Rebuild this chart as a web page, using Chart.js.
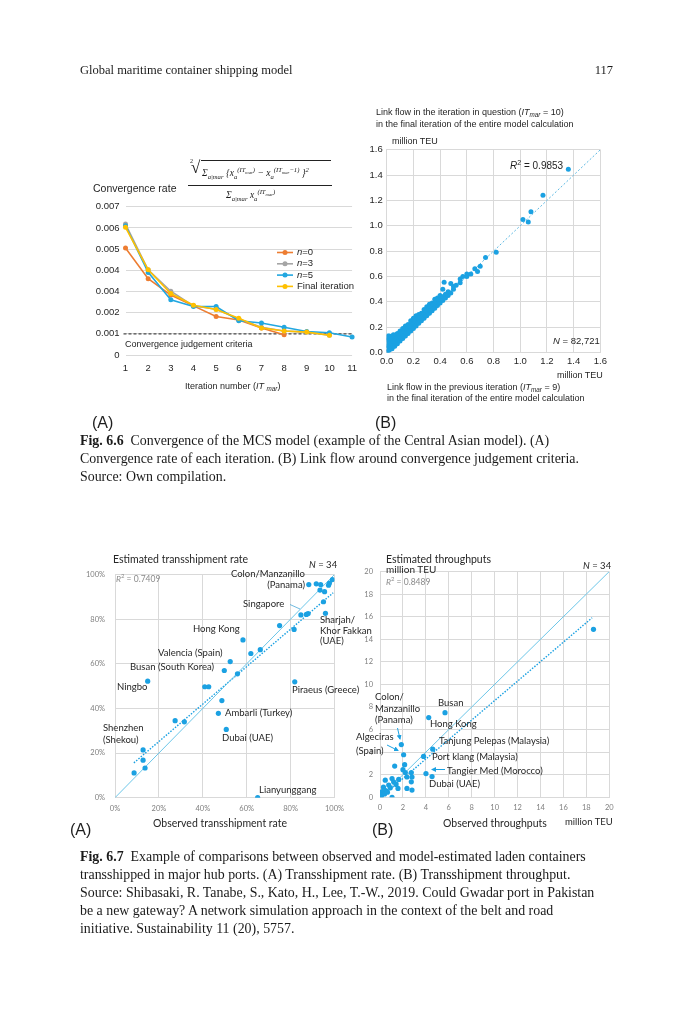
<!DOCTYPE html>
<html>
<head>
<meta charset="utf-8">
<script src="https://cdn.jsdelivr.net/npm/chart.js@4.4.1/dist/chart.umd.min.js"></script>
<style>
body { margin: 0; background: #fff; }
#page { position: relative; width: 682px; height: 1024px; overflow: hidden; font-family: 'Liberation Sans', Arial, sans-serif; color: #1e1e1e; }
.box { position: absolute; }
.t { position: absolute; white-space: nowrap; line-height: 1; transform: translateY(-50%); }
.r { transform: translate(-100%, -50%); }
.serif { font-family: 'Liberation Serif', 'Times New Roman', serif; color: #1a1a1a; }
.cal { font-family: Lato, 'Open Sans', sans-serif; color: #262626; }
.gray { color: #8a8a8a; }
sub, sup { font-size: 70%; line-height: 0; }
#overlay { position: absolute; left: 0; top: 0; z-index: 5; }
</style>
</head>
<body>
<div id="page">
  <div class="box" style="left:90px;top:195px"><canvas id="rateChart" width="275" height="185"></canvas></div>
  <div class="box" style="left:360px;top:140px"><canvas id="flowChart" width="250" height="230"></canvas></div>
  <div class="box" style="left:60px;top:560px"><canvas id="shareChart" width="290" height="260"></canvas></div>
  <div class="box" style="left:350px;top:560px"><canvas id="teuChart" width="275" height="260"></canvas></div>

  <!-- convergence formula -->
  <div class="box serif" style="left:186px;top:153px;width:150px;height:50px;font-size:9.5px;font-style:italic;z-index:4">
    <span style="position:absolute;left:4px;top:5px;font-size:6px;font-style:normal">2</span>
    <span style="position:absolute;left:5px;top:5px;font-size:17px;font-style:normal">&radic;</span>
    <div style="position:absolute;left:15px;top:7px;width:130px;border-top:0.8px solid #222"></div>
    <span style="position:absolute;left:16px;top:15px;white-space:nowrap">&Sigma;<sub>a|mar</sub> {x<sub>a</sub><sup>(IT<sub>mar</sub>)</sup> &minus; x<sub>a</sub><sup>(IT<sub>mar</sub>&minus;1)</sup> }<sup>2</sup></span>
    <div style="position:absolute;left:2px;top:32px;width:144px;border-top:0.8px solid #222"></div>
    <span style="position:absolute;left:40px;top:37px;white-space:nowrap">&Sigma;<sub>a|mar</sub> x<sub>a</sub><sup>(IT<sub>mar</sub>)</sup></span>
  </div>

  <svg id="overlay" width="682" height="1024">
    <defs>
      <marker id="ah" markerWidth="5" markerHeight="5" refX="4" refY="2.5" orient="auto">
        <path d="M0,0 L5,2.5 L0,5 z" fill="#1ba1e2"/>
      </marker>
    </defs>
    <line x1="290" y1="604.5" x2="300" y2="609" stroke="#4aa8d8" stroke-width="0.8"/>
    <line x1="397.5" y1="728" x2="400" y2="739" stroke="#1ba1e2" stroke-width="1" marker-end="url(#ah)"/>
    <line x1="387" y1="745" x2="398" y2="750.5" stroke="#1ba1e2" stroke-width="1" marker-end="url(#ah)"/>
    <line x1="445" y1="769.5" x2="432" y2="769.5" stroke="#1ba1e2" stroke-width="1" marker-end="url(#ah)"/>
  </svg>
</div>

<script>
// Fig 6.6 (A) convergence rate per iteration
const iterations = ['1', '2', '3', '4', '5', '6', '7', '8', '9', '10', '11'];
const rateN0 = [0.00505, 0.0036, 0.00283, 0.00232, 0.00182, 0.00165, 0.00127, 0.00096];
const rateN3 = [0.00618, 0.00402, 0.00301, 0.00232, 0.00216, 0.0017, 0.00131, 0.00113, 0.00108, 0.00093];
const rateN5 = [0.0061, 0.0039, 0.00261, 0.00229, 0.00229, 0.00162, 0.00151, 0.00131, 0.00111, 0.00105, 0.00085];
const rateFinal = [0.00603, 0.00402, 0.0029, 0.00235, 0.00215, 0.00173, 0.00128, 0.00113, 0.00108, 0.00093];
const rateTicks = ['0', '0.001', '0.002', '0.004', '0.004', '0.005', '0.006', '0.007'];
const criteria = 0.001;

// Fig 6.6 (B) link flow, previous iteration vs iteration in question (million TEU)
const flowPairs = [
    [0, 0], [0, 0.03], [0, 0.06], [0, 0.09], [0, 0.12],
    [0.01, 0.01], [0.01, 0.05], [0.01, 0.10], [0.01, 0.13],
    [0.02, 0.02], [0.02, 0.06], [0.02, 0.11], [0.02, 0.13],
    [0.03, 0.04], [0.03, 0.08], [0.03, 0.12],
    [0.04, 0.03], [0.04, 0.07], [0.04, 0.11],
    [0.05, 0.05], [0.05, 0.09], [0.05, 0.14],
    [0.06, 0.05], [0.06, 0.09], [0.06, 0.13],
    [0.07, 0.07], [0.07, 0.11], [0.07, 0.14],
    [0.08, 0.07], [0.08, 0.11], [0.08, 0.15],
    [0.09, 0.09], [0.09, 0.12],
    [0.10, 0.09], [0.10, 0.13], [0.10, 0.17],
    [0.11, 0.11], [0.11, 0.15],
    [0.12, 0.11], [0.12, 0.15], [0.12, 0.19],
    [0.13, 0.13], [0.13, 0.17],
    [0.14, 0.13], [0.14, 0.17], [0.14, 0.21],
    [0.15, 0.15], [0.15, 0.19],
    [0.16, 0.15], [0.16, 0.19], [0.16, 0.22],
    [0.17, 0.17], [0.17, 0.21],
    [0.18, 0.17], [0.18, 0.21], [0.18, 0.25],
    [0.19, 0.19], [0.19, 0.23],
    [0.20, 0.19], [0.20, 0.23], [0.20, 0.27],
    [0.21, 0.21], [0.21, 0.25],
    [0.22, 0.21], [0.22, 0.25], [0.22, 0.29],
    [0.23, 0.23], [0.23, 0.27],
    [0.24, 0.23], [0.24, 0.27], [0.24, 0.30],
    [0.25, 0.25], [0.25, 0.28],
    [0.26, 0.25], [0.26, 0.29], [0.26, 0.31],
    [0.27, 0.27], [0.27, 0.30],
    [0.28, 0.27], [0.28, 0.31], [0.28, 0.34],
    [0.29, 0.29], [0.29, 0.32],
    [0.30, 0.29], [0.30, 0.33], [0.30, 0.36],
    [0.31, 0.31], [0.31, 0.34],
    [0.32, 0.31], [0.32, 0.35], [0.32, 0.38],
    [0.33, 0.33], [0.33, 0.36],
    [0.34, 0.33], [0.34, 0.37], [0.34, 0.39],
    [0.35, 0.35], [0.35, 0.38],
    [0.36, 0.35], [0.36, 0.38], [0.36, 0.42],
    [0.37, 0.37], [0.37, 0.40],
    [0.38, 0.37], [0.38, 0.40], [0.38, 0.43],
    [0.39, 0.39], [0.39, 0.42],
    [0.40, 0.39], [0.40, 0.42], [0.40, 0.45],
    [0.42, 0.41], [0.42, 0.44], [0.42, 0.50],
    [0.44, 0.43], [0.44, 0.46], [0.43, 0.555],
    [0.46, 0.45], [0.46, 0.48], [0.48, 0.47], [0.48, 0.545], [0.50, 0.50], [0.50, 0.52],
    [0.52, 0.53], [0.55, 0.58], [0.55, 0.55], [0.57, 0.60], [0.60, 0.60], [0.60, 0.62],
    [0.63, 0.62], [0.66, 0.66], [0.68, 0.64], [0.70, 0.68], [0.74, 0.75], [0.82, 0.79],
    [1.02, 1.05], [1.06, 1.03], [1.08, 1.11], [1.17, 1.24], [1.36, 1.445]
];
const flowFit = [[0, 0], [1.6, 1.6]];
const flowTicks = [0, 0.2, 0.4, 0.6, 0.8, 1.0, 1.2, 1.4, 1.6];

// Fig 6.7 (A) transshipment rate, observed vs estimated (%)
const ratePairs = [
    [88.3, 95.5], [91.7, 95.8], [93.7, 95.5], [93.4, 93.0], [95.5, 92.3], [97.3, 95.2], [97.7, 96.2], [99.1, 97.7],
    [95.0, 87.8], [95.9, 82.6], [84.7, 81.9], [87.2, 82.1], [88.0, 82.5], [81.6, 75.4], [75.0, 77.1],
    [58.3, 70.7], [66.2, 66.3], [61.9, 64.6], [52.5, 61.0], [49.8, 57.0], [55.8, 55.5], [14.9, 52.2],
    [81.9, 51.9], [40.9, 49.7], [42.7, 49.7], [48.7, 43.5], [47.1, 37.8], [50.7, 30.6], [27.4, 34.5],
    [31.6, 34.0], [12.8, 21.4], [12.8, 16.8], [8.7, 11.1], [13.7, 13.3], [65.0, 0]
];
const rateIdentity = [[0, 0], [100, 100]];
const rateFit = [[8.6, 15.6], [99.4, 91.8]];

// Fig 6.7 (B) transshipment throughput, observed vs estimated (million TEU)
const teuPairs = [
    [18.62, 14.88], [5.67, 7.5], [4.25, 7.06], [1.86, 4.67], [2.06, 3.77], [4.6, 4.26], [3.8, 3.62],
    [4.01, 2.1], [4.54, 1.84], [1.28, 2.77], [2.15, 2.89], [2.0, 2.45], [2.21, 2.19], [2.73, 2.19],
    [2.79, 1.8], [2.35, 1.8], [2.73, 1.37], [1.63, 1.58], [1.05, 1.66], [0.46, 1.52], [1.4, 1.14],
    [1.19, 1.37], [0.76, 1.08], [0.9, 0.84], [1.57, 0.79], [2.35, 0.79], [2.79, 0.64], [1.05, 0],
    [0.3, 0.9], [0.2, 0.5], [0.5, 0.6], [0.15, 0.2], [0.4, 0.3], [0.1, 0], [0.65, 0.45]
];
const teuIdentity = [[0, 0], [20, 20]];
const teuFit = [[0.3, 0.2], [18.5, 15.9]];

const toXY = arr => arr.map(p => ({ x: p[0], y: p[1] }));
const blue = '#1ba1e2';
const grid = '#d9d9d9';
const arial = "'Liberation Sans', Arial, sans-serif";
const lato = "Lato, 'Open Sans', sans-serif";

// text on the page
const texts = [
    ['Global maritime container shipping model', 80, 70, 'serif', 12.5],
    ['117', 613, 70, 'serif r', 12.5],
    ['Convergence rate', 93, 188, '', 10.5],
    ['Convergence judgement criteria', 125, 344, '', 9],
    ['Iteration number (<i>IT</i> <sub><i>mar</i></sub>)', 185, 386, '', 9],
    ['(A)', 92, 423, '', 16],
    ['(B)', 375, 423, '', 16],
    ['Link flow in the iteration in question (<i>IT<sub>mar</sub></i> = 10)', 376, 112, '', 9],
    ['in the final iteration of the entire model calculation', 376, 124, '', 9],
    ['million TEU', 392, 141, '', 9],
    ['<i>R</i><sup>2</sup> = 0.9853', 510, 166, '', 10],
    ['<i>N</i> = 82,721', 553, 341, '', 9.5],
    ['million TEU', 557, 375, '', 9],
    ['Link flow in the previous iteration (<i>IT<sub>mar</sub></i> = 9)', 387, 387, '', 9],
    ['in the final iteration of the entire model calculation', 387, 398, '', 9],
    ['<b>Fig. 6.6</b>&nbsp; Convergence of the MCS model (example of the Central Asian model). (A)', 80, 441, 'serif', 13.9],
    ['Convergence rate of each iteration. (B) Link flow around convergence judgement criteria.', 80, 459, 'serif', 13.9],
    ['Source: Own compilation.', 80, 477, 'serif', 13.9],

    ['Estimated transshipment rate', 113, 559, 'cal', 10.5],
    ['<i>N</i> = 34', 309, 565, 'cal', 9.5],
    ['<i>R</i><sup>2</sup> = 0.7409', 116, 579, 'cal gray', 8.5],
    ['Colon/Manzanillo', 305, 574, 'cal r', 9.5],
    ['(Panama)', 305, 585, 'cal r', 9.5],
    ['Singapore', 243, 604, 'cal', 9.5],
    ['Sharjah/', 320, 620, 'cal', 9.5],
    ['Khor Fakkan', 320, 631, 'cal', 9.5],
    ['(UAE)', 320, 641, 'cal', 9.5],
    ['Hong Kong', 193, 629, 'cal', 9.5],
    ['Valencia (Spain)', 158, 653, 'cal', 9.5],
    ['Busan (South Korea)', 130, 667, 'cal', 9.5],
    ['Ningbo', 117, 687, 'cal', 9.5],
    ['Piraeus (Greece)', 292, 690, 'cal', 9.5],
    ['Ambarli (Turkey)', 225, 713, 'cal', 9.5],
    ['Shenzhen', 103, 728, 'cal', 9.5],
    ['(Shekou)', 103, 740, 'cal', 9.5],
    ['Dubai (UAE)', 222, 738, 'cal', 9.5],
    ['Lianyunggang', 259, 790, 'cal', 9.5],
    ['Observed transshipment rate', 153, 823, 'cal', 10.5],
    ['(A)', 70, 830, '', 16],

    ['Estimated throughputs', 386, 559, 'cal', 10.5],
    ['million TEU', 386, 569, 'cal', 10],
    ['<i>R</i><sup>2</sup> = 0.8489', 386, 582, 'cal gray', 8.5],
    ['<i>N</i> = 34', 583, 566, 'cal', 9.5],
    ['Colon/', 375, 697, 'cal', 9.5],
    ['Manzanillo', 375, 709, 'cal', 9.5],
    ['(Panama)', 375, 720, 'cal', 9.5],
    ['Busan', 438, 703, 'cal', 9.5],
    ['Hong Kong', 430, 724, 'cal', 9.5],
    ['Algeciras', 356, 737, 'cal', 9.5],
    ['(Spain)', 356, 751, 'cal', 9.5],
    ['Tanjung Pelepas (Malaysia)', 439, 741, 'cal', 9.5],
    ['Port klang (Malaysia)', 432, 757, 'cal', 9.5],
    ['Tangier Med (Morocco)', 447, 771, 'cal', 9.5],
    ['Dubai (UAE)', 429, 784, 'cal', 9.5],
    ['Observed throughputs', 443, 823, 'cal', 10.5],
    ['million TEU', 565, 822, 'cal', 9.5],
    ['(B)', 372, 830, '', 16],

    ['<b>Fig. 6.7</b>&nbsp; Example of comparisons between observed and model-estimated laden containers', 80, 857, 'serif', 13.9],
    ['transshipped in major hub ports. (A) Transshipment rate. (B) Transshipment throughput.', 80, 875, 'serif', 13.9],
    ['Source: Shibasaki, R. Tanabe, S., Kato, H., Lee, T.-W., 2019. Could Gwadar port in Pakistan', 80, 893, 'serif', 13.9],
    ['be a new gateway? A network simulation approach in the context of the belt and road', 80, 911, 'serif', 13.9],
    ['initiative. Sustainability 11 (20), 5757.', 80, 929, 'serif', 13.9]
];

const page = document.getElementById('page');
texts.forEach(([html, x, y, cls, size]) => {
    const el = document.createElement('div');
    el.className = 't ' + cls;
    el.style.left = x + 'px';
    el.style.top = y + 'px';
    el.style.fontSize = size + 'px';
    el.style.zIndex = 6;
    el.innerHTML = html;
    page.appendChild(el);
});

// dashed criteria line + legend drawn with line samples
const criteriaLine = {
    id: 'criteriaLine',
    beforeDatasetsDraw(chart) {
        const { ctx, chartArea, scales } = chart;
        const y = scales.y.getPixelForValue(criteria);
        ctx.save();
        ctx.strokeStyle = '#4a4a4a';
        ctx.lineWidth = 1.2;
        ctx.setLineDash([3, 2]);
        ctx.beginPath();
        ctx.moveTo(chartArea.left - 2, y);
        ctx.lineTo(chartArea.right, y);
        ctx.stroke();
        ctx.restore();
    }
};

const lineLegend = {
    id: 'lineLegend',
    afterDatasetsDraw(chart, args, opts) {
        const ctx = chart.ctx;
        ctx.save();
        ctx.textBaseline = 'middle';
        chart.data.datasets.forEach((ds, i) => {
            const y = opts.y + i * opts.gap;
            ctx.strokeStyle = ds.borderColor;
            ctx.fillStyle = ds.borderColor;
            ctx.lineWidth = 1.6;
            ctx.beginPath();
            ctx.moveTo(opts.x, y);
            ctx.lineTo(opts.x + 16, y);
            ctx.stroke();
            ctx.beginPath();
            ctx.arc(opts.x + 8, y, 2.5, 0, Math.PI * 2);
            ctx.fill();
            ctx.fillStyle = '#1e1e1e';
            let tx = opts.x + 20;
            if (ds.label.startsWith('n=')) {
                ctx.font = 'italic 9.5px ' + arial;
                ctx.fillText('n', tx, y);
                tx += ctx.measureText('n').width;
                ctx.font = '9.5px ' + arial;
                ctx.fillText(ds.label.slice(1), tx, y);
            } else {
                ctx.font = '9.5px ' + arial;
                ctx.fillText(ds.label, tx, y);
            }
        });
        ctx.restore();
    }
};

function lineSet(label, data, color, order) {
    return {
        label: label, data: data, borderColor: color, backgroundColor: color,
        borderWidth: 1.6, pointRadius: 2.5, pointBorderWidth: 0, pointBackgroundColor: color,
        tension: 0, order: order
    };
}

new Chart(document.getElementById('rateChart'), {
    type: 'line',
    data: {
        labels: iterations,
        datasets: [
            lineSet('n=0', rateN0, '#ed7d31', 3),
            lineSet('n=3', rateN3, '#a5a5a5', 2),
            lineSet('n=5', rateN5, '#22a7e0', 1),
            lineSet('Final iteration', rateFinal, '#ffc000', 0)
        ]
    },
    options: {
        responsive: false, animation: false, devicePixelRatio: 1,
        layout: { padding: { top: 9.5, right: 7.5, left: 0, bottom: 0 } },
        plugins: { legend: { display: false }, tooltip: { enabled: false }, lineLegend: { x: 187, y: 57.5, gap: 11.3 } },
        scales: {
            x: {
                grid: { display: false, drawTicks: false }, border: { display: false },
                ticks: { color: '#262626', font: { family: arial, size: 9.5 }, padding: 8, maxRotation: 0 },
                afterFit: s => { s.height = 25; }
            },
            y: {
                min: 0, max: 0.007,
                grid: { color: grid, drawTicks: false }, border: { display: false },
                ticks: { stepSize: 0.001, color: '#262626', font: { family: arial, size: 9.5 }, padding: 6,
                    callback: (v, i) => rateTicks[i] },
                afterFit: s => { s.width = 35.5; }
            }
        }
    },
    plugins: [criteriaLine, lineLegend]
});

new Chart(document.getElementById('flowChart'), {
    type: 'scatter',
    data: {
        datasets: [
            { data: toXY(flowPairs), pointRadius: 2.5, pointBorderWidth: 0, backgroundColor: blue },
            { type: 'line', data: toXY(flowFit), borderColor: '#5cb8e2', borderWidth: 1, borderDash: [2, 2], pointRadius: 0 }
        ]
    },
    options: {
        responsive: false, animation: false, devicePixelRatio: 1,
        layout: { padding: { top: 9.3, right: 9, left: 0, bottom: 0 } },
        plugins: { legend: { display: false }, tooltip: { enabled: false } },
        scales: {
            x: {
                type: 'linear', min: 0, max: 1.6,
                afterBuildTicks: s => { s.ticks = flowTicks.map(v => ({ value: v })); },
                grid: { color: grid, drawTicks: false }, border: { color: grid },
                ticks: { color: '#262626', font: { family: arial, size: 9.5 }, padding: 3, maxRotation: 0,
                    callback: v => v.toFixed(1) },
                afterFit: s => { s.height = 17.5; }
            },
            y: {
                min: 0, max: 1.6,
                afterBuildTicks: s => { s.ticks = flowTicks.map(v => ({ value: v })); },
                grid: { color: grid, drawTicks: false }, border: { color: grid },
                ticks: { color: '#262626', font: { family: arial, size: 9.5 }, padding: 4,
                    callback: v => v.toFixed(1) },
                afterFit: s => { s.width = 26.7; }
            }
        }
    }
});

function compareChart(id, pairs, identity, fit, max, step, suffix, pad) {
    return new Chart(document.getElementById(id), {
        type: 'scatter',
        data: {
            datasets: [
                { data: toXY(pairs), pointRadius: 2.6, pointBorderWidth: 0, backgroundColor: blue },
                { type: 'line', data: toXY(identity), borderColor: '#6cc6e8', borderWidth: 1, pointRadius: 0 },
                { type: 'line', data: toXY(fit), borderColor: blue, borderWidth: 1.4, borderDash: [1.5, 1.5], pointRadius: 0 }
            ]
        },
        options: {
            responsive: false, animation: false, devicePixelRatio: 1,
            layout: { padding: { top: 9, right: pad.right, left: 0, bottom: 0 } },
            plugins: { legend: { display: false }, tooltip: { enabled: false } },
            scales: {
                x: {
                    type: 'linear', min: 0, max: max,
                    grid: { color: grid, drawTicks: false }, border: { color: grid },
                    ticks: { stepSize: step, color: '#7f7f7f', font: { family: lato, size: 7.5 }, padding: 6, maxRotation: 0,
                        callback: v => v + suffix },
                    afterFit: s => { s.height = pad.bottom; }
                },
                y: {
                    min: 0, max: max,
                    grid: { color: grid, drawTicks: false }, border: { color: grid },
                    ticks: { stepSize: step, color: '#7f7f7f', font: { family: lato, size: 7.5 }, padding: pad.tick,
                        callback: v => v + suffix },
                    afterFit: s => { s.width = pad.left; }
                }
            }
        }
    });
}

compareChart('shareChart', ratePairs, rateIdentity, rateFit, 100, 20, '%', { left: 55, right: 13.3, bottom: 22.3, tick: 10 });
compareChart('teuChart', teuPairs, teuIdentity, teuFit, 20, 2, '', { left: 30, right: 15.7, bottom: 22.7, tick: 7 });
</script>
</body>
</html>
